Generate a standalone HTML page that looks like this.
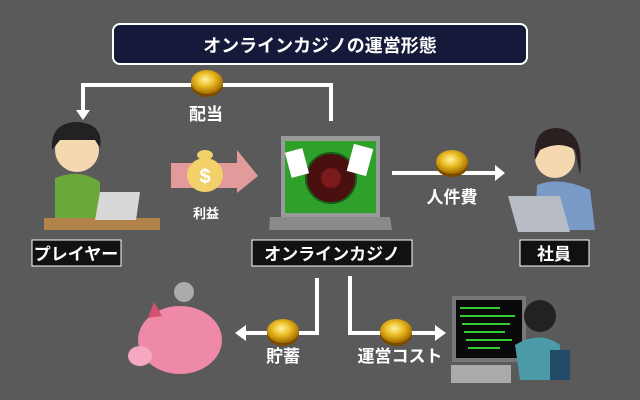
<!DOCTYPE html>
<html><head><meta charset="utf-8"><style>
body{margin:0;background:#5a5a5a;}
svg{display:block;}
text{font-family:"Liberation Sans","Noto Sans CJK JP",sans-serif;font-weight:bold;fill:#fff;}
</style></head><body>
<svg width="640" height="400" viewBox="0 0 640 400">
<rect width="640" height="400" fill="#5a5a5a"/>
<defs>
<radialGradient id="cg" cx="0.45" cy="0.4" r="0.6"><stop offset="0" stop-color="#fff3a0"/><stop offset="0.5" stop-color="#e8b820"/><stop offset="1" stop-color="#a06a00"/></radialGradient>
<g id="coin"><ellipse cx="0" cy="3" rx="16" ry="12" fill="#7a4a00"/><ellipse cx="0" cy="0" rx="16" ry="12" fill="url(#cg)"/></g>
<marker id="ah" markerWidth="4" markerHeight="4" refX="2" refY="2" orient="auto" markerUnits="strokeWidth"><path d="M0,0 L4,2 L0,4 Z" fill="#fff"/></marker>
</defs>
<!-- title -->
<rect x="113" y="24" width="414" height="40" rx="7" fill="#15193a" stroke="#fff" stroke-width="2"/>
<text x="320" y="52" font-size="18" text-anchor="middle">オンラインカジノの運営形態</text>
<!-- dividend arrow -->
<path d="M331,121 V85 H83 V110" fill="none" stroke="#fff" stroke-width="4"/>
<path d="M76,110 L90,110 L83,120 Z" fill="#fff"/>
<use href="#coin" x="207" y="82"/>
<text x="206" y="120" font-size="17" text-anchor="middle">配当</text>
<!-- profit arrow -->
<path d="M171,163 H237 V150 L258,176 L237,193 V188 H171 Z" fill="#e39a9a"/>
<ellipse cx="205" cy="175" rx="18" ry="17" fill="#f2d06a"/>
<ellipse cx="205" cy="155" rx="8" ry="5" fill="#f2d06a"/>
<text x="205" y="183" font-size="20" text-anchor="middle" style="fill:#fff">$</text>
<text x="206" y="218" font-size="13" text-anchor="middle">利益</text>
<!-- laptop casino -->
<rect x="281" y="136" width="99" height="81" fill="#9a9a9a"/>
<rect x="285" y="141" width="91" height="72" fill="#2ea12a"/>
<circle cx="331" cy="178" r="25" fill="#4a1010" stroke="#1a5a1a" stroke-width="2"/>
<circle cx="331" cy="178" r="10" fill="#7a1a1a"/>
<rect x="288" y="150" width="18" height="26" fill="#fff" transform="rotate(-15 297 163)"/>
<rect x="350" y="146" width="20" height="28" fill="#fff" transform="rotate(15 360 160)"/>
<path d="M270,217 H390 L392,230 H269 Z" fill="#8a8a8a"/>
<!-- arrow to staff -->
<path d="M392,173 H495" stroke="#fff" stroke-width="4"/>
<path d="M495,165 L505,173 L495,181 Z" fill="#fff"/>
<use href="#coin" x="452" y="162"/>
<text x="452" y="203" font-size="17" text-anchor="middle">人件費</text>
<!-- player -->
<circle cx="77" cy="150" r="22" fill="#f6d8b0"/>
<path d="M52,150 Q50,122 78,122 Q104,124 100,148 L95,140 L60,140 Z" fill="#222"/>
<path d="M55,178 Q80,168 100,182 L100,222 L55,222 Z" fill="#6aa83a"/>
<path d="M44,218 H160 V230 H44 Z" fill="#b3844a"/>
<path d="M100,192 H140 L136,220 H95 Z" fill="#d8d8d8"/>
<!-- employee -->
<circle cx="555" cy="158" r="20" fill="#f6d8b0"/>
<path d="M535,160 Q532,128 557,128 Q585,130 580,175 L575,150 Q560,140 540,150 Z" fill="#2a2020"/>
<path d="M537,185 Q560,176 590,190 L595,230 H535 Z" fill="#7a9ac8"/>
<path d="M508,196 H560 L570,232 H518 Z" fill="#b8bcc4"/>
<!-- labels -->
<rect x="32" y="240" width="89" height="26" fill="#111" stroke="#fff" stroke-width="1"/>
<text x="76" y="260" font-size="17" text-anchor="middle">プレイヤー</text>
<rect x="252" y="240" width="160" height="26" fill="#111" stroke="#fff" stroke-width="1"/>
<text x="332" y="260" font-size="17" text-anchor="middle">オンラインカジノ</text>
<rect x="520" y="240" width="69" height="26" fill="#111" stroke="#fff" stroke-width="1"/>
<text x="554" y="260" font-size="17" text-anchor="middle">社員</text>
<!-- bottom arrows -->
<path d="M317,278 V333 H245" fill="none" stroke="#fff" stroke-width="4"/>
<path d="M246,325 L235,333 L246,341 Z" fill="#fff"/>
<use href="#coin" x="283" y="331"/>
<text x="283" y="362" font-size="17" text-anchor="middle">貯蓄</text>
<path d="M350,276 V333 H435" fill="none" stroke="#fff" stroke-width="4"/>
<path d="M435,325 L446,333 L435,341 Z" fill="#fff"/>
<use href="#coin" x="396" y="331"/>
<text x="400" y="362" font-size="17" text-anchor="middle">運営コスト</text>
<!-- piggy -->
<circle cx="184" cy="292" r="10" fill="#aaa"/>
<ellipse cx="180" cy="340" rx="42" ry="34" fill="#ee8aa8"/>
<ellipse cx="140" cy="356" rx="12" ry="10" fill="#f5a8c0"/>
<path d="M148,318 L154,302 L162,316 Z" fill="#d85070"/>
<!-- programmer -->
<rect x="452" y="296" width="74" height="66" fill="#777"/>
<rect x="456" y="300" width="66" height="58" fill="#0a0a0a"/>
<path d="M460,308 H500 M460,316 H515 M462,324 H510 M464,332 H505 M466,340 H512 M468,348 H500" stroke="#3c3" stroke-width="2"/>
<rect x="451" y="365" width="60" height="18" fill="#aaa"/>
<circle cx="540" cy="316" r="16" fill="#222"/>
<path d="M515,345 Q540,330 560,345 L560,380 H520 Z" fill="#4a9aa8"/>
<rect x="550" y="350" width="20" height="30" fill="#244a6a"/>
</svg>
</body></html>
